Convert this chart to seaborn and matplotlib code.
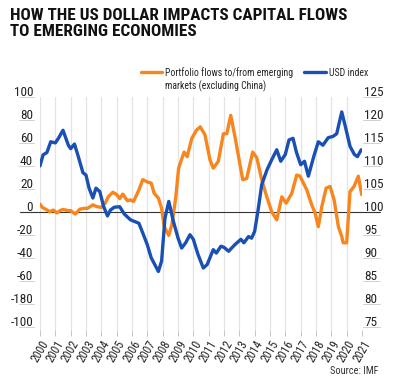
import matplotlib
matplotlib.use("Agg")
import matplotlib.pyplot as plt
import matplotlib.transforms as mtransforms
import seaborn as sns
import pandas as pd

# Portfolio flows to/from emerging markets (excluding China), left axis
flow_years = [2000.0, 2000.15, 2000.44, 2000.65, 2000.87, 2001.1, 2001.3, 2001.5, 2001.85, 2002.0,
              2002.3, 2002.6, 2002.9, 2003.1, 2003.45, 2003.7, 2004.0, 2004.25, 2004.45, 2004.75,
              2005.0, 2005.2, 2005.4, 2005.7, 2005.9, 2006.1, 2006.45, 2006.7, 2007.0, 2007.25,
              2007.45, 2007.72, 2007.93, 2008.1, 2008.4, 2008.6, 2008.85, 2009.04, 2009.26, 2009.4,
              2009.6, 2009.9, 2010.2, 2010.45, 2010.76, 2011.09, 2011.3, 2011.63, 2011.96, 2012.18,
              2012.44, 2012.72, 2013.22, 2013.48, 2013.87, 2014.14, 2014.46, 2014.79, 2015.11, 2015.44,
              2015.77, 2016.05, 2016.42, 2016.74, 2016.96, 2017.18, 2017.4, 2017.72, 2017.94, 2018.15,
              2018.38, 2018.66, 2018.92, 2019.18, 2019.46, 2019.68, 2019.77, 2020.0, 2020.22, 2020.48,
              2020.76, 2020.98]
flow_values = [6.7, 3.8, 1.7, 0, 1.5, -1, 1, 2, 1, 1,
               -2, 2.3, 3, 3, 6, 4.5, 3.8, 7.5, 13, 17,
               15, 11.5, 15.4, 9.6, 10.4, 9, 19, 28, 26, 25,
               16, 12, 3, -13, -20.6, -11, 12, 38, 46.7, 52,
               48, 64, 71, 74, 67, 45, 38, 44, 68, 68,
               84, 65, 28, 29, 52, 47, 28, 13, 0, -7,
               13, 7.5, 16, 32, 31, 25, 19, 6, -1, -13,
               4.6, 20.6, 22, 10.4, -13, -21.5, -27, -27, 17.7, 22,
               31, 15]

# USD index, right axis
usd_years = [2000.0, 2000.2, 2000.45, 2000.7, 2001.0, 2001.2, 2001.5, 2001.85, 2002.0, 2002.25,
             2002.5, 2002.8, 2003.0, 2003.2, 2003.45, 2003.65, 2003.9, 2004.15, 2004.4, 2004.6,
             2004.85, 2005.2, 2005.5, 2005.9, 2006.45, 2006.7, 2007.0, 2007.25, 2007.72, 2007.93,
             2008.15, 2008.4, 2008.7, 2009.0, 2009.24, 2009.5, 2009.78, 2010.0, 2010.3, 2010.65,
             2010.9, 2011.3, 2011.5, 2011.8, 2012.0, 2012.3, 2012.7, 2013.1, 2013.3, 2013.6,
             2013.8, 2014.0, 2014.24, 2014.46, 2014.8, 2015.1, 2015.44, 2015.7, 2016.0, 2016.24,
             2016.5, 2016.72, 2017.0, 2017.25, 2017.5, 2017.85, 2018.15, 2018.45, 2018.8, 2019.1,
             2019.35, 2019.68, 2019.9, 2020.22, 2020.5, 2020.7, 2020.95]
usd_values = [110, 112.4, 112.9, 115.25, 115, 116, 117.75, 114.5, 113.75, 114.75,
              112, 108.5, 108, 105.15, 103, 105.15, 104.4, 101.15, 99.1, 100.4,
              101, 101.1, 99.5, 98.25, 97.5, 95.4, 92.8, 90, 87, 89.25,
              98.6, 102.25, 97.9, 94.3, 92.1, 93.25, 95, 94, 90.75, 87.75,
              88.5, 91.75, 91, 92.5, 92.25, 91.4, 92.8, 94, 93.25, 94.6,
              94.25, 95.75, 100.75, 105.9, 109.1, 111.25, 113.5, 111, 112.5, 115.65,
              116, 113, 110.25, 111, 107.75, 112, 115.25, 114.5, 116.15, 116.4,
              117, 121.75, 118.75, 114.25, 112.5, 112, 113.5]

year_ticks = list(range(2000, 2022))
left_ticks = [100, 80, 60, 40, 20, 0, -20, -40, -60, -80, -100]
left_labels = ["100", "80", "60", "40", "20", "0", "-20", "-40", "-60", "-180", "-100"]
right_ticks = [125, 120, 115, 110, 105, 100, 95, 90, 85, 80, 75]

ORANGE = "#F7861E"
BLUE = "#1A4FB3"
FONT = ["Roboto Condensed", "Roboto", "Liberation Sans", "DejaVu Sans"]

sns.set_style("white")
plt.rcParams["font.family"] = FONT
plt.rcParams["font.stretch"] = "condensed"

flows = pd.DataFrame({"year": flow_years, "value": flow_values})
usd = pd.DataFrame({"year": usd_years, "value": usd_values})

fig = plt.figure(figsize=(4.0, 3.88), dpi=100)
ax = fig.add_axes([0.1, 0.1495, 0.805, 0.6005])
ax2 = ax.twinx()

ax.set_xlim(2000, 2021)
ax.set_ylim(-103, 100)
ax2.set_ylim(100 - 103 / 4, 125)

for a in (ax, ax2):
    for s in a.spines.values():
        s.set_visible(False)

# vertical grid
for yr in year_ticks:
    ax.axvline(yr, color="#e3e3e3", lw=0.9, zorder=0)

# zero line reaches past the plot on both sides
blend = mtransforms.blended_transform_factory(ax.transAxes, ax.transData)
ax.plot([-0.062, 1.056], [0, 0], transform=blend, color="#333333", lw=0.8,
        clip_on=False, zorder=1)
for t in left_ticks:
    if t != 0:
        ax.plot([-0.065, -0.019], [t, t], transform=blend, color="#d0d0d0", lw=0.7, clip_on=False)
blend2 = mtransforms.blended_transform_factory(ax2.transAxes, ax2.transData)
for t in right_ticks:
    if t != 100:
        ax2.plot([1.003, 1.056], [t, t], transform=blend2, color="#d0d0d0", lw=0.7, clip_on=False)

sns.lineplot(data=flows, x="year", y="value", ax=ax, color=ORANGE, lw=2.4,
             zorder=3, label="Portfolio flows to/from emerging", legend=False)
sns.lineplot(data=usd, x="year", y="value", ax=ax2, color=BLUE, lw=2.4,
             zorder=3, label="USD index", legend=False)

ax.set_xlabel("")
ax.set_ylabel("")
ax2.set_ylabel("")

ax.set_xticks(year_ticks)
ax.set_xticklabels([str(y) for y in year_ticks], rotation=60, ha="right",
                   rotation_mode="anchor", fontsize=8.5)
ax.tick_params(axis="x", length=4, width=0.6, color="#bbbbbb", pad=2, bottom=True)

ax.set_yticks(left_ticks)
ax.set_yticklabels(left_labels, fontsize=9.5)
ax.tick_params(axis="y", length=0, pad=5, labelcolor="#222222")
ax2.set_yticks(right_ticks)
ax2.set_yticklabels([str(t) for t in right_ticks], fontsize=9.5)
ax2.tick_params(axis="y", length=0, pad=1.5, labelcolor="#222222")

up = mtransforms.ScaledTranslation(0, 6 / 100, fig.dpi_scale_trans)
for lab in ax.get_yticklabels() + ax2.get_yticklabels():
    lab.set_transform(lab.get_transform() + up)

# title
fig.text(0.025, 0.979, "HOW THE US DOLLAR IMPACTS CAPITAL FLOWS\nTO EMERGING ECONOMIES",
         ha="left", va="top", fontsize=12.3, fontweight="bold", color="#111111",
         linespacing=1.1)

# legend, sized so the first line spans about 128 px
probe = fig.text(0, 0, "Portfolio flows to/from emerging", fontsize=8)
fig.canvas.draw()
w = probe.get_window_extent().width
probe.remove()
legend_size = min(9, 8 * 128 / w)

h1, l1 = ax.get_legend_handles_labels()
h2, l2 = ax2.get_legend_handles_labels()
leg = fig.legend(h1 + h2, l1 + l2, ncol=2, frameon=False, fontsize=legend_size,
                 loc="upper left", bbox_to_anchor=(0.352, 0.828),
                 handlelength=2.2, handletextpad=0.3, columnspacing=1.1,
                 borderaxespad=0, borderpad=0)
fig.canvas.draw()
bb = leg.get_texts()[0].get_window_extent()
x0, y0 = fig.transFigure.inverted().transform((bb.x0, bb.y0))
fig.text(x0, y0 - 0.008, "markets (excluding China)", ha="left", va="top",
         fontsize=legend_size, color="#222222")

fig.text(0.945, 0.03, "Source: IMF", ha="right", va="bottom", fontsize=7.5, color="#333333")

fig.savefig("out.png", dpi=100)
